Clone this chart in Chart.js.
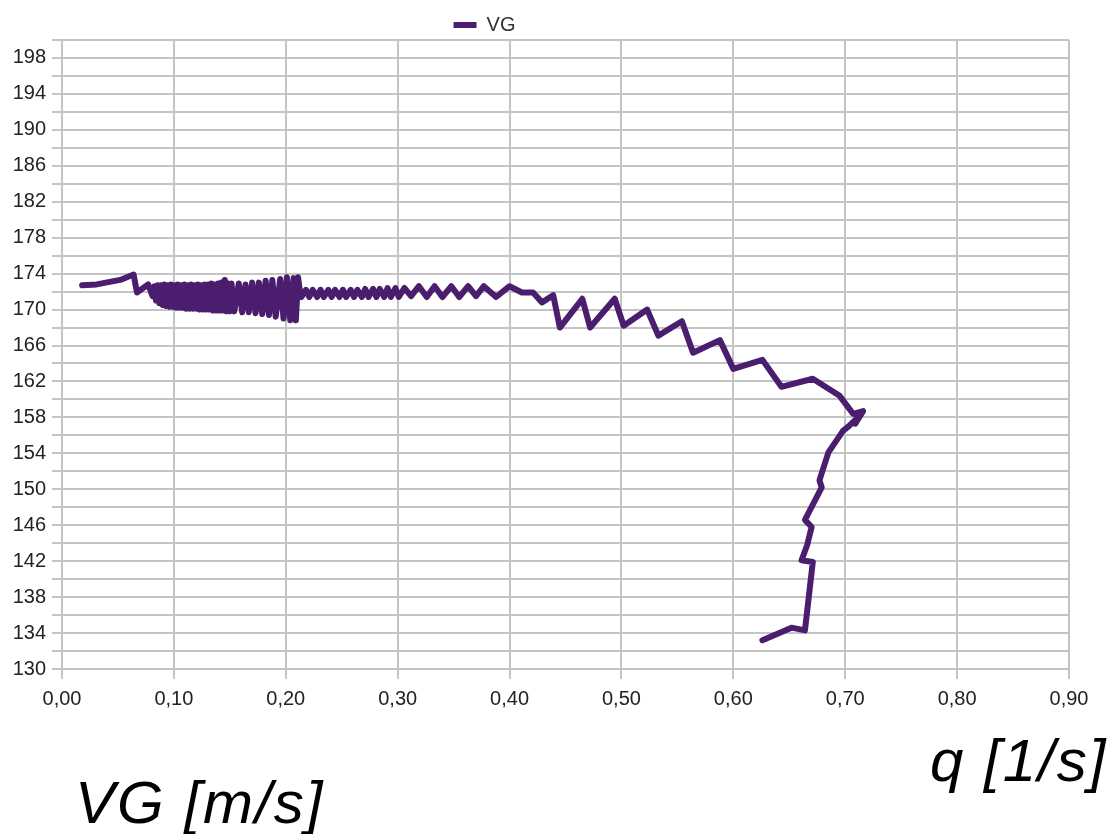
<!DOCTYPE html>
<html>
<head>
<meta charset="utf-8">
<script src="https://cdn.jsdelivr.net/npm/chart.js@4.4.1/dist/chart.umd.min.js"></script>
<style>
  html, body { margin: 0; padding: 0; background: #fff; }
  .wrap { position: relative; width: 1111px; height: 834px; }
  .axis-name {
    position: absolute;
    font-family: 'Liberation Sans', Arial, sans-serif;
    font-style: italic;
    font-size: 60px;
    line-height: 1;
    letter-spacing: 2px;
    color: #000;
    white-space: nowrap;
  }
</style>
</head>
<body>
<div class="wrap">
  <canvas id="chart"></canvas>
  <div class="axis-name" style="left:930px; top:731px;">q [1/s]</div>
  <div class="axis-name" style="left:75px; top:773px;">VG [m/s]</div>
</div>
<script>
const seriesName = 'VG';

// q [1/s] along x, VG [m/s] along y in drawing order
const qValues = [
  0.018, 0.031, 0.052, 0.064, 0.067, 0.077, 0.081,
  0.0825, 0.084, 0.0855, 0.087, 0.0885, 0.090, 0.0915, 0.093, 0.0945, 0.096,
  0.0975, 0.099, 0.1005, 0.102, 0.1035, 0.105, 0.1065, 0.108, 0.1095, 0.111,
  0.1125, 0.114, 0.1155, 0.117, 0.1185, 0.120, 0.1215, 0.123, 0.1245, 0.126,
  0.1275, 0.129, 0.1305, 0.132, 0.1335, 0.135, 0.1365, 0.138, 0.1395, 0.141,
  0.1425, 0.144, 0.1455, 0.147, 0.1485, 0.150, 0.1515,
  0.154, 0.158, 0.161, 0.164, 0.167, 0.170, 0.173, 0.176, 0.179, 0.182, 0.185,
  0.188, 0.191, 0.195, 0.198, 0.201, 0.204, 0.207, 0.209, 0.211, 0.213,
  0.214, 0.218, 0.221, 0.224, 0.228, 0.231, 0.234, 0.238, 0.241, 0.244, 0.248, 0.251,
  0.254, 0.258, 0.261, 0.264, 0.268, 0.271, 0.274, 0.278, 0.281, 0.284, 0.288, 0.291,
  0.294, 0.298, 0.301,
  0.306, 0.312, 0.319, 0.326, 0.333, 0.340, 0.348, 0.355, 0.363, 0.370, 0.377, 0.388, 0.400,
  0.411, 0.421, 0.429, 0.439, 0.445, 0.465, 0.472, 0.494, 0.502, 0.523, 0.533, 0.554,
  0.564, 0.588, 0.600, 0.626, 0.643, 0.671, 0.695, 0.707, 0.716, 0.709, 0.713, 0.703,
  0.698, 0.685, 0.679, 0.677, 0.679, 0.664, 0.670, 0.666, 0.661, 0.671, 0.664, 0.652, 0.626
];

const vgValues = [
  172.7, 172.8, 173.3, 173.9, 171.9, 172.8, 171.5,
  172.6, 171.0, 172.7, 170.7, 172.7, 170.5, 172.8, 170.4, 172.7, 170.3,
  172.8, 170.3, 172.7, 170.2, 172.8, 170.2, 172.7, 170.2, 172.8, 170.1,
  172.7, 170.1, 172.8, 170.1, 172.7, 170.1, 172.8, 170.0, 172.7, 170.0,
  172.8, 170.0, 172.8, 170.0, 172.9, 169.9, 172.8, 169.9, 172.9, 169.9,
  173.0, 169.9, 173.3, 169.8, 172.9, 169.8, 172.9,
  169.8, 172.9, 169.7, 172.8, 169.7, 173.0, 169.6, 173.0, 169.5, 173.2, 169.4,
  173.3, 169.2, 173.4, 169.0, 173.6, 168.8, 173.5, 168.8, 173.6, 171.6,
  171.4, 172.2, 171.4, 172.2, 171.4, 172.2, 171.4, 172.2, 171.4, 172.2, 171.4, 172.2,
  171.4, 172.2, 171.4, 172.2, 171.4, 172.3, 171.4, 172.3, 171.4, 172.3, 171.4, 172.4,
  171.4, 172.4, 171.4,
  172.4, 171.5, 172.6, 171.4, 172.6, 171.4, 172.6, 171.4, 172.6, 171.5, 172.6, 171.4, 172.6,
  171.9, 171.9, 170.8, 171.6, 168.0, 171.2, 168.0, 171.2, 168.2, 170.0, 167.1, 168.7,
  165.2, 166.6, 163.4, 164.4, 161.4, 162.3, 160.4, 158.4, 158.7, 157.3, 158.2, 157.0,
  156.5, 154.1, 151.8, 151.0, 150.2, 146.6, 145.8, 143.8, 142.1, 141.9, 134.3, 134.6, 133.2
];

const lineColor = '#4a1d6e';
const gridColor = '#c4c4c4';
const fontFamily = "'Liberation Sans', Arial, sans-serif";

// nudge the legend to where the original sits (left of centre, a bit lower)
const legendShift = {
  id: 'legendShift',
  afterLayout(chart) {
    const lg = chart.legend;
    lg.left -= 50;
    lg.right -= 50;
    lg.top += 5;
    lg.bottom += 5;
  }
};

new Chart(document.getElementById('chart'), {
  type: 'scatter',
  data: {
    datasets: [{
      label: seriesName,
      data: qValues.map((q, i) => ({ x: q, y: vgValues[i] })),
      showLine: true,
      borderColor: lineColor,
      backgroundColor: lineColor,
      borderWidth: 6,
      borderJoinStyle: 'round',
      borderCapStyle: 'round',
      pointRadius: 0,
      tension: 0
    }]
  },
  options: {
    responsive: true,
    maintainAspectRatio: false,
    animation: false,
    layout: { padding: { top: 6, right: 42, left: 0, bottom: 0 } },
    plugins: {
      tooltip: { enabled: false },
      legend: {
        position: 'top',
        labels: {
          boxWidth: 23,
          boxHeight: 6,
          padding: 4,
          color: '#333',
          font: { family: fontFamily, size: 20 },
          generateLabels(chart) {
            const items = Chart.defaults.plugins.legend.labels.generateLabels(chart);
            items.forEach((item) => { item.lineWidth = 0; item.fillStyle = lineColor; });
            return items;
          }
        }
      }
    },
    scales: {
      x: {
        type: 'linear',
        min: 0,
        max: 0.9,
        afterFit: (scale) => { scale.height = 165; },
        ticks: {
          stepSize: 0.1,
          maxRotation: 0,
          padding: 8,
          color: '#222',
          font: { family: fontFamily, size: 20 },
          callback: (v) => v.toFixed(2).replace('.', ',')
        },
        grid: { color: gridColor, lineWidth: 2, tickLength: 10 },
        border: { color: gridColor, width: 2 }
      },
      y: {
        min: 130,
        max: 200,
        afterFit: (scale) => { scale.width = 62; },
        ticks: {
          stepSize: 2,
          autoSkip: false,
          padding: 6,
          color: '#222',
          font: { family: fontFamily, size: 20 },
          callback: (v) => ((v - 130) % 4 === 0 ? String(v) : '')
        },
        grid: { color: gridColor, lineWidth: 2, tickLength: 10 },
        border: { color: gridColor, width: 2 }
      }
    }
  },
  plugins: [legendShift]
});
</script>
</body>
</html>
